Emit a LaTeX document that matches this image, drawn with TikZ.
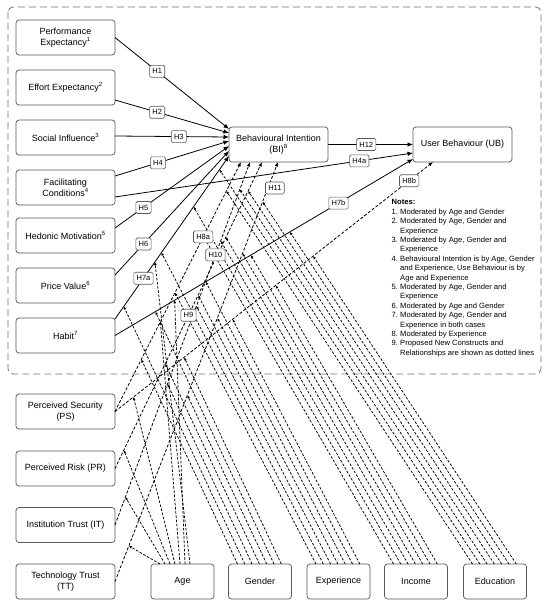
\documentclass[tikz,border=0pt]{standalone}
\usepackage{fontspec}
\setmainfont{Liberation Sans}
\usetikzlibrary{arrows.meta,calc}
\newcommand\notenum[1]{\makebox[8.5pt][l]{#1}}
\begin{document}
\begin{tikzpicture}[x=1pt,y=-1pt,
  box/.style={draw=black!65, line width=0.7pt, rounded corners=3pt, fill=white, align=center,
    minimum width=99pt, minimum height=35pt, inner sep=1pt, outer sep=0pt,
    font=\fontsize{9}{11}\selectfont},
  modbox/.style={box, minimum width=63pt},
  hlab/.style={draw=black!65, line width=0.6pt, rounded corners=1.5pt, fill=white,
    font=\fontsize{7.5}{8}\selectfont, inner xsep=2.8pt, inner ysep=1.5pt,
    minimum height=12pt, minimum width=15pt},
  sol/.style={line width=0.8pt, -{Latex[length=5.5pt,width=4.5pt]}},
  dsh/.style={line width=0.8pt, dash pattern=on 3pt off 1.8pt, -{Latex[length=4.5pt,width=3.5pt]}},
  mod/.style={line width=0.75pt, dash pattern=on 2.6pt off 1.6pt, -{Latex[length=3pt,width=2.8pt]}},
]
\useasboundingbox (0,0) rectangle (550,610);
\fill[white] (0,0) rectangle (550,610);
\draw[black!55, line width=0.8pt, dash pattern=on 7pt off 4pt, rounded corners=5pt] (8,7) rectangle (541,374);

% boxes
\node[box] (PE) at (65.5,37.5) {Performance\\Expectancy\textsuperscript{1}};
\node[box] (EE) at (65.5,87.5) {Effort Expectancy\textsuperscript{2}};
\node[box] (SI) at (65.5,137.5) {Social Influence\textsuperscript{3}};
\node[box] (FC) at (65.5,187.5) {Facilitating\\Conditions\textsuperscript{4}};
\node[box] (HM) at (65.5,235.5) {Hedonic Motivation\textsuperscript{5}};
\node[box] (PV) at (65.5,285.5) {Price Value\textsuperscript{6}};
\node[box] (HB) at (65.5,335.5) {Habit\textsuperscript{7}};
\node[box] (BI) at (278.5,144.5) {Behavioural Intention\\(BI)\textsuperscript{8}};
\node[box] (UB) at (462.5,144.5) {User Behaviour (UB)};
\node[box] (PS) at (65.5,411.5) {Perceived Security\\(PS)};
\node[box] (PR) at (65.5,468.5) {Perceived Risk (PR)};
\node[box] (IT) at (65.5,525) {Institution Trust (IT)};
\node[box] (TT) at (65.5,581.5) {Technology Trust\\(TT)};
\node[modbox] (age) at (182.5,581.5) {Age};
\node[modbox] (gen) at (260,581.5) {Gender};
\node[modbox] (exp) at (338.5,581.5) {Experience};
\node[modbox] (inc) at (416,581.5) {Income};
\node[modbox] (edu) at (495,581.5) {Education};

% connection points
\coordinate (bw1) at ([yshift=15.5pt]BI.west);
\coordinate (bw2) at ([yshift=11.5pt]BI.west);
\coordinate (bw3) at ([yshift=7.5pt]BI.west);
\coordinate (bw4) at ([yshift=3.5pt]BI.west);
\coordinate (bw5) at ([yshift=-1.5pt]BI.west);
\coordinate (bw6) at ([yshift=-6.5pt]BI.west);
\coordinate (ee) at ([yshift=-12.5pt]EE.east);
\coordinate (si) at ([yshift=1.5pt]SI.east);
\coordinate (fc1) at ([yshift=11.5pt]FC.east);
\coordinate (fc2) at ([yshift=-9.5pt]FC.east);
\coordinate (hm) at ([yshift=7.5pt]HM.east);
\coordinate (pv) at ([yshift=10.5pt]PV.east);
\coordinate (ub2) at ([yshift=-8.5pt]UB.west);
\coordinate (D8aA) at (PS.east);  \coordinate (D8aB) at ([xshift=-37.5pt]BI.south);
\coordinate (D8bA) at (PS.east);  \coordinate (D8bB) at ([xshift=-29.5pt]UB.south);
\coordinate (D9A) at (PR.east);   \coordinate (D9B) at ([xshift=-16.5pt]BI.south);
\coordinate (D10A) at (IT.east);  \coordinate (D10B) at ([xshift=-28.5pt]BI.south);
\coordinate (D11A) at (TT.east);  \coordinate (D11B) at ([xshift=-0.5pt]BI.south);
\coordinate (P7aA) at ([yshift=16.5pt]HB.east); \coordinate (P7aB) at ([yshift=-11.5pt]BI.west);
\coordinate (P7bA) at (HB.east);  \coordinate (P7bB) at ([yshift=-14.5pt]UB.west);

% moderator lines
\foreach \mo/\sl in {gen/0.47,exp/0.52,inc/0.58,edu/0.66}{
  \foreach \kk/\tg in {0/D8a,1/P7a,2/D10,3/D9,4/D11,5/P7b,6/D8b}{
    \coordinate (\mo\kk s) at ([xshift={(9+7.3*\kk)*1pt}]\mo.north west);
    \coordinate (\mo\kk q) at ($(\mo\kk s)+(-300*\sl,-300)$);
    \coordinate (\mo\kk e) at (intersection cs: first line={(\mo\kk s)--(\mo\kk q)}, second line={(\tg A)--(\tg B)});
    \draw[mod] (\mo\kk s) -- (\mo\kk e);
  }
}
\foreach \kk/\tg/\tp in {0/D11/0.085,1/D10/0.077,2/D9/0.06,3/D8b/0.058,4/D8a/0.36,5/P7b/0.2,6/P7a/0.35}{
  \coordinate (age\kk s) at ([xshift={(9+5*\kk)*1pt}]age.north west);
  \coordinate (age\kk e) at ($(\tg A)!\tp!(\tg B)$);
  \draw[mod] (age\kk s) -- (age\kk e);
}

% new construct paths
\draw[dsh] (D8aA) -- (D8aB);
\draw[dsh] (D8bA) -- (D8bB);
\draw[dsh] (D9A) -- (D9B);
\draw[dsh] (D10A) -- (D10B);
\draw[dsh] (D11A) -- (D11B);

% UTAUT2 paths
\draw[sol] (PE.east) -- (bw1);
\draw[sol] (ee) -- (bw2);
\draw[sol] (si) -- (bw3);
\draw[sol] (fc1) -- (bw4);
\draw[sol] (hm) -- (bw5);
\draw[sol] (pv) -- (bw6);
\draw[sol] (P7aA) -- (P7aB);
\draw[sol] (fc2) -- (ub2);
\draw[sol] (P7bA) -- (P7bB);
\draw[sol] (BI.east) -- (UB.west);

% labels
\path (PE.east) -- (bw1) node[hlab,pos=0.37] {H1};
\path (ee) -- (bw2) node[hlab,pos=0.37] {H2};
\path (si) -- (bw3) node[hlab,pos=0.56] {H3};
\path (fc1) -- (bw4) node[hlab,pos=0.377] {H4};
\path (hm) -- (bw5) node[hlab,pos=0.25] {H5};
\path (pv) -- (bw6) node[hlab,pos=0.25] {H6};
\path (P7aA) -- (P7aB) node[hlab,pos=0.25] {H7a};
\path (fc2) -- (ub2) node[hlab,pos=0.82] {H4a};
\path (P7bA) -- (P7bB) node[hlab,pos=0.75] {H7b};
\path (BI.east) -- (UB.west) node[hlab,pos=0.45] {H12};
\path (D8aA) -- (D8aB) node[hlab,pos=0.70] {H8a};
\path (D8bA) -- (D8bB) node[hlab,pos=0.925] {H8b};
\path (D9A) -- (D9B) node[hlab,pos=0.5] {H9};
\path (D10A) -- (D10B) node[hlab,pos=0.744] {H10};
\path (D11A) -- (D11B) node[hlab,pos=0.938,xshift=7pt] {H11};

% notes
\node[anchor=north west, align=left, inner sep=0pt, font=\fontsize{7.6}{9.4}\selectfont] (notes) at (391.5,199.5) {%
\textbf{Notes:}\\
\notenum{1.}Moderated by Age and Gender\\
\notenum{2.}Moderated by Age, Gender and\\
\notenum{}Experience\\
\notenum{3.}Moderated by Age, Gender and\\
\notenum{}Experience\\
\notenum{4.}Behavioural Intention is by Age, Gender\\
\notenum{}and Experience, Use Behaviour is by\\
\notenum{}Age and Experience\\
\notenum{5.}Moderated by Age, Gender and\\
\notenum{}Experience\\
\notenum{6.}Moderated by Age and Gender\\
\notenum{7.}Moderated by Age, Gender and\\
\notenum{}Experience in both cases\\
\notenum{8.}Moderated by Experience\\
\notenum{9.}Proposed New Constructs and\\
\notenum{}Relationships are shown as dotted lines};
\end{tikzpicture}
\end{document}
